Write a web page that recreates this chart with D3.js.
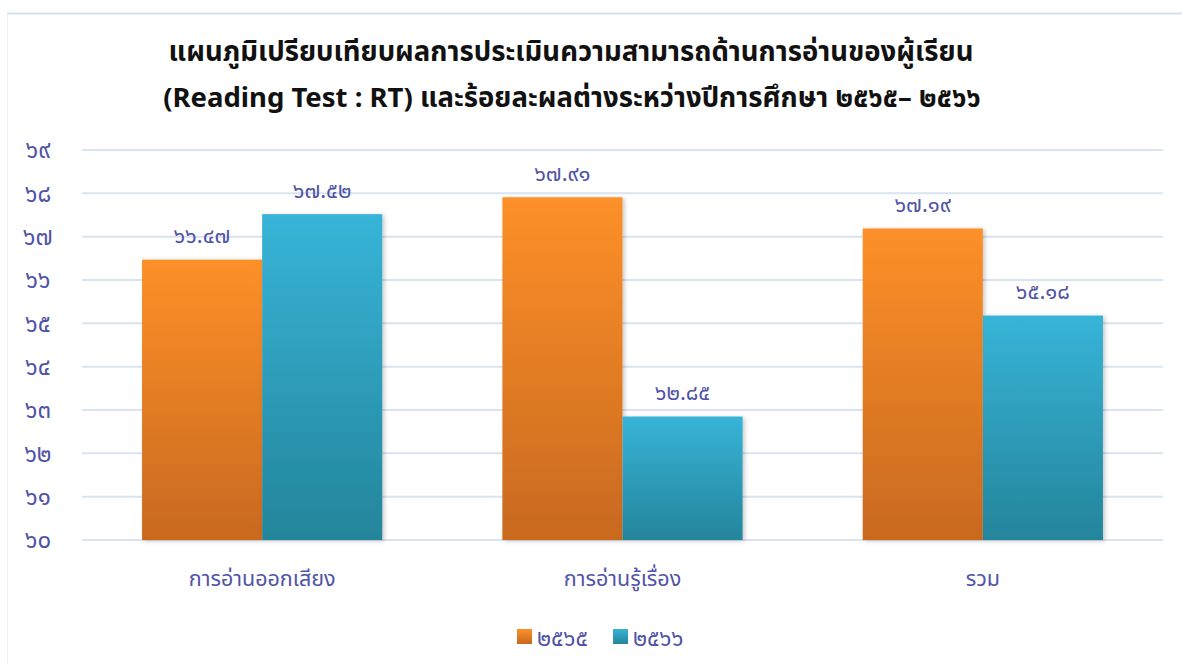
<!DOCTYPE html>
<html><head><meta charset="utf-8">
<script src="https://cdn.jsdelivr.net/npm/d3@7"></script>
<style>
body{margin:0;background:#fff;}
svg{display:block;font-family:"Noto Sans","Noto Sans Thai",Roboto,sans-serif;}
</style></head>
<body><svg id="c" width="1182" height="664"></svg>
<script>
const categories = ["การอ่านออกเสียง", "การอ่านรู้เรื่อง", "รวม"];
const seriesNames = ["๒๕๖๕", "๒๕๖๖"];
const values2565 = [66.47, 67.91, 67.19];
const values2566 = [67.52, 62.85, 65.18];
const valueLabels2565 = ["๖๖.๔๗", "๖๗.๙๑", "๖๗.๑๙"];
const valueLabels2566 = ["๖๗.๕๒", "๖๒.๘๕", "๖๕.๑๘"];
const yTicks = [60, 61, 62, 63, 64, 65, 66, 67, 68, 69];
const thaiDigits = "๐๑๒๓๔๕๖๗๘๙";
const toThai = s => String(s).replace(/[0-9]/g, d => thaiDigits[+d]);

const svg = d3.select("#c");
const W = 1182, H = 664;
const m = {left: 82, right: 19, top: 150, bottom: 124};
const labelColor = "#5053a8";

// frame
svg.append("line").attr("x1",7).attr("x2",W).attr("y1",13.5).attr("y2",13.5).attr("stroke","#d5e1ef").attr("stroke-width",2);
svg.append("line").attr("x1",7.5).attr("x2",7.5).attr("y1",14).attr("y2",H).attr("stroke","#eef1f6").attr("stroke-width",1);

const defs = svg.append("defs");
function grad(id, top, bottom){
  const g = defs.append("linearGradient").attr("id",id).attr("x1",0).attr("x2",0).attr("y1",0).attr("y2",1);
  g.append("stop").attr("offset","0%").attr("stop-color",top);
  g.append("stop").attr("offset","100%").attr("stop-color",bottom);
}
grad("gO","#fd9029","#c8691f");
grad("gT","#37b4d8","#24859b");
const f = defs.append("filter").attr("id","sh").attr("x","-10%").attr("y","-10%").attr("width","130%").attr("height","120%");
f.append("feDropShadow").attr("dx",2).attr("dy",1).attr("stdDeviation",2).attr("flood-color","#000").attr("flood-opacity",0.22);

const x0 = d3.scaleBand().domain(categories).range([m.left, W - m.right]).paddingInner(1/3).paddingOuter(1/6);
const x1 = d3.scaleBand().domain(seriesNames).range([0, x0.bandwidth()]);
const y = d3.scaleLinear().domain([60, 69]).range([H - m.bottom, m.top]);

// gridlines
svg.append("g").selectAll("line").data(yTicks).join("line")
  .attr("x1", m.left).attr("x2", W - m.right)
  .attr("y1", d => y(d)).attr("y2", d => y(d))
  .attr("stroke","#d9e3f1").attr("stroke-width",2);

// y axis labels
svg.append("g").selectAll("text").data(yTicks).join("text")
  .attr("x", 38).attr("y", d => y(d)).attr("dy","0.35em")
  .attr("text-anchor","middle").attr("fill",labelColor).attr("font-size",24)
  .text(d => toThai(d));

const data = categories.map((c,i)=>({cat:c, vals:[
  {s:seriesNames[0], v:values2565[i], lab:valueLabels2565[i], fill:"url(#gO)"},
  {s:seriesNames[1], v:values2566[i], lab:valueLabels2566[i], fill:"url(#gT)"}]}));

const groups = svg.append("g").selectAll("g").data(data).join("g")
  .attr("transform", d => `translate(${x0(d.cat)},0)`);
groups.selectAll("rect").data(d => d.vals).join("rect")
  .attr("x", d => x1(d.s)).attr("width", x1.bandwidth())
  .attr("y", d => y(d.v)).attr("height", d => y(60) - y(d.v))
  .attr("fill", d => d.fill).attr("filter","url(#sh)");
groups.selectAll("text").data(d => d.vals).join("text")
  .attr("x", d => x1(d.s) + x1.bandwidth()/2).attr("y", d => y(d.v) - 24).attr("dy","0.35em")
  .attr("text-anchor","middle").attr("fill",labelColor).attr("font-size",22)
  .text(d => d.lab);

// x labels
svg.append("g").selectAll("text").data(categories).join("text")
  .attr("x", d => x0(d) + x0.bandwidth()/2).attr("y", 586)
  .attr("text-anchor","middle").attr("fill",labelColor).attr("font-size",21.5)
  .text(d => d);

// title
svg.append("text").attr("x", 571).attr("y", 61).attr("text-anchor","middle")
  .attr("font-size",27.5).attr("font-weight","bold").attr("fill","#111")
  .text("แผนภูมิเปรียบเทียบผลการประเมินความสามารถด้านการอ่านของผู้เรียน");
svg.append("text").attr("x", 572).attr("y", 107).attr("text-anchor","middle")
  .attr("font-size",27.5).attr("font-weight","bold").attr("fill","#111")
  .text("(Reading Test : RT) และร้อยละผลต่างระหว่างปีการศึกษา ๒๕๖๕– ๒๕๖๖");

// legend
const leg = svg.append("g");
const legItems = [{n:seriesNames[0], fill:"url(#gO)", x:517},{n:seriesNames[1], fill:"url(#gT)", x:613}];
legItems.forEach(it=>{
  leg.append("rect").attr("x",it.x).attr("y",629).attr("width",15).attr("height",15).attr("fill",it.fill);
  leg.append("text").attr("x",it.x+20).attr("y",638).attr("dy","0.35em").attr("fill",labelColor).attr("font-size",23).text(it.n);
});
</script></body></html>
